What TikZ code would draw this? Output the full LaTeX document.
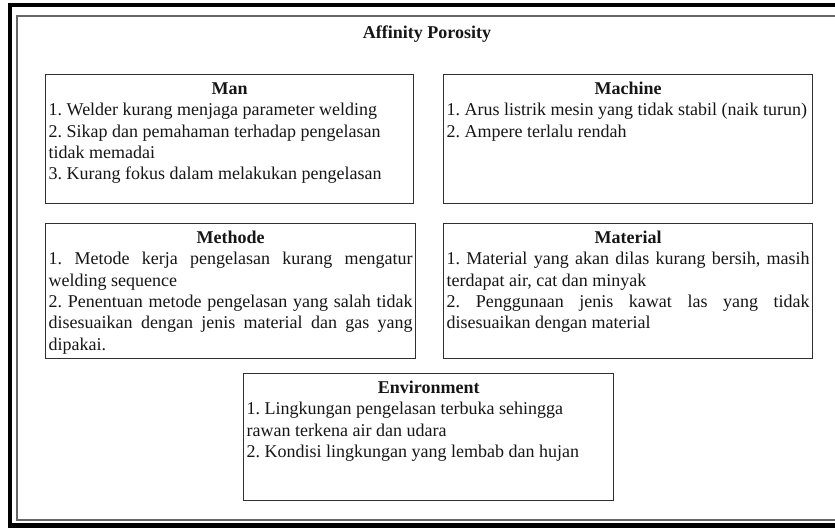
\documentclass[tikz,border=0pt]{standalone}
\usepackage{fontspec}
\setmainfont{Liberation Serif}

\definecolor{outerframe}{HTML}{000000}
\definecolor{innerframe}{HTML}{666666}
\definecolor{boxline}{HTML}{303030}
\definecolor{inkcol}{HTML}{161616}

\newcommand\causefont{\fontsize{18}{21.4}\selectfont}
% #1 text width, #2 box height, #3 heading, #4 body
\newcommand\causebox[4]{%
  \parbox[t][#2][t]{#1}{\frenchspacing\hyphenpenalty=10000 \tolerance=10000
    {\centering\rule{0pt}{19.7pt}\textbf{#3}\par}#4}}

\tikzset{
  cause/.style={draw=boxline, line width=1.4pt, fill=white, anchor=north west,
    inner xsep=3pt, inner ysep=0pt, font=\causefont, text=inkcol},
  heading/.style={font=\causefont\bfseries, text=inkcol, anchor=base, inner sep=0pt}
}

\begin{document}
\begin{tikzpicture}[x=1pt, y=-1pt]
  \clip (0,0) rectangle (835,529);
  \fill[white] (0,0) rectangle (835,529);

  % double page frame, open to the right
  \draw[outerframe, line width=4.5pt] (10,5) rectangle (880,525.5);
  \draw[innerframe, line width=1.8pt] (17,16) rectangle (880,520);

  \node[heading] (title) at (427,39) {Affinity Porosity};

  \node[cause] (man) at (45,74) {\causebox{362pt}{129pt}{Man}{\raggedright
    1. Welder kurang menjaga parameter welding\\
    2. Sikap dan pemahaman terhadap pengelasan\\
    tidak memadai\\
    3. Kurang fokus dalam melakukan pengelasan}};

  \node[cause] (machine) at (443,74) {\causebox{363pt}{129pt}{Machine}{\raggedright
    1. Arus listrik mesin yang tidak stabil (naik turun)\\
    2. Ampere terlalu rendah}};

  \node[cause] (methode) at (45,223) {\causebox{364pt}{135pt}{Methode}{%
    1. Metode kerja pengelasan kurang mengatur\linebreak
    welding sequence\par
    2. Penentuan metode pengelasan yang salah tidak\linebreak
    disesuaikan dengan jenis material dan gas yang\linebreak
    dipakai.}};

  \node[cause] (material) at (443,223) {\causebox{363pt}{135pt}{Material}{%
    1. Material yang akan dilas kurang bersih, masih\linebreak
    terdapat air, cat dan minyak\par
    2. Penggunaan jenis kawat las yang tidak\linebreak
    disesuaikan dengan material}};

  \node[cause] (environment) at (243,373) {\causebox{364pt}{127pt}{Environment}{\raggedright
    1. Lingkungan pengelasan terbuka sehingga\\
    rawan terkena air dan udara\\
    2. Kondisi lingkungan yang lembab dan hujan}};
\end{tikzpicture}
\end{document}
